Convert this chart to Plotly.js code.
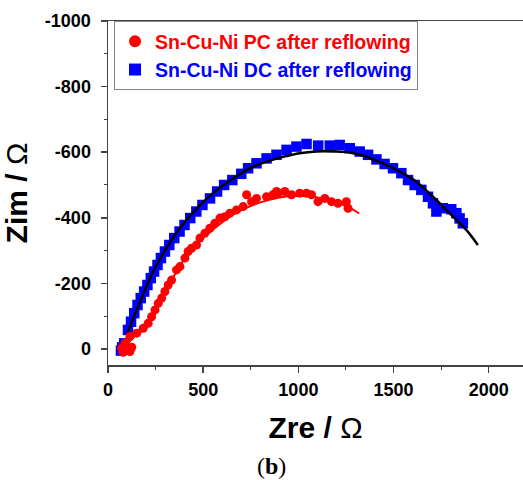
<!DOCTYPE html>
<html>
<head>
<meta charset="utf-8">
<script src="https://cdn.plot.ly/plotly-3.0.1.min.js"></script>
<style>
html,body{margin:0;padding:0;background:#fff;overflow:hidden;}
#chart{width:523px;height:480px;}
</style>
</head>
<body>
<div id="chart"></div>
<script>
// Sn-Cu-Ni PC after reflowing (red circles)
var pcZre = [72, 80, 89, 100, 115, 125, 115, 151, 185, 211, 229, 247, 264, 282, 299, 316, 334, 360, 378, 404, 421, 439, 465, 483, 509, 535, 561, 588, 614, 640, 675, 710, 728, 754, 780, 833, 885, 867, 894, 929, 964, 1007, 1043, 1069, 1103, 1139, 1174, 1208, 1252, 1261];
var pcZim = [-2, 10, -17, 5, 8, -5, -38, -48, -63, -78, -98, -119, -139, -155, -175, -195, -210, -241, -251, -277, -297, -307, -317, -338, -353, -368, -383, -399, -403, -414, -424, -434, -470, -449, -459, -464, -480, -470, -475, -480, -470, -475, -475, -470, -449, -459, -449, -444, -449, -429];
// PC fitted curve (red line)
var pcFitZre = [110, 150, 200, 240, 280, 330, 380, 430, 480, 550, 620, 700, 800, 900, 1000, 1100, 1200, 1270, 1320];
var pcFitZim = [-20, -45, -65, -100, -150, -205, -255, -300, -330, -363, -395, -423, -447, -462, -466, -462, -446, -430, -413];
// Sn-Cu-Ni DC after reflowing (blue squares)
var dcZre = [68, 75, 85, 105, 121, 138, 155, 172, 190, 207, 225, 242, 260, 278, 299, 322, 348, 376, 402, 432, 464, 496, 536, 573, 610, 653, 700, 736, 780, 833, 885, 938, 990, 1043, 1104, 1165, 1217, 1270, 1322, 1366, 1410, 1453, 1497, 1541, 1576, 1611, 1646, 1681, 1707, 1725, 1759, 1803, 1830, 1847, 1864];
var dcZim = [5, -5, -17, -58, -83, -109, -134, -155, -175, -195, -216, -236, -256, -277, -297, -317, -338, -358, -378, -399, -419, -439, -459, -480, -500, -515, -534, -551, -566, -581, -592, -607, -617, -625, -620, -620, -622, -612, -602, -592, -578, -564, -551, -536, -515, -500, -485, -464, -444, -419, -429, -426, -414, -398, -383];
// DC fitted curve (black line)
var dcFitZre = [100, 104, 172, 242, 312, 398, 485, 572, 659, 746, 833, 920, 1007, 1095, 1182, 1270, 1357, 1445, 1532, 1620, 1707, 1794, 1882, 1943];
var dcFitZim = [-30, -48, -149, -241, -312, -383, -439, -485, -520, -551, -571, -586, -597, -602, -602, -599, -586, -566, -541, -510, -464, -414, -363, -317];
// axis ticks
var xTickVals = [0, 500, 1000, 1500, 2000];
var xTickText = ['0', '500', '1000', '1500', '2000'];
var yTickVals = [0, -200, -400, -600, -800, -1000];
var yTickText = ['0', '-200', '-400', '-600', '-800', '-1000'];

var pcName = 'Sn-Cu-Ni PC after reflowing';
var dcName = 'Sn-Cu-Ni DC after reflowing';

var traces = [
  {x: dcZre, y: dcZim, mode: 'markers', type: 'scatter', name: '<span style="color:#0000ff">' + dcName + '</span>',
   marker: {symbol: 'square', size: 10.5, color: '#0000ff'}, legendrank: 2},
  {x: dcFitZre, y: dcFitZim, mode: 'lines', type: 'scatter', showlegend: false,
   line: {color: '#000000', width: 2.5, shape: 'spline'}},
  {x: pcZre, y: pcZim, mode: 'markers', type: 'scatter', name: '<span style="color:#ff0000">' + pcName + '</span>',
   marker: {symbol: 'circle', size: 9, color: '#ff0000'}, legendrank: 1},
  {x: pcFitZre, y: pcFitZim, mode: 'lines', type: 'scatter', showlegend: false,
   line: {color: '#ff0000', width: 2, shape: 'spline'}}
];

var tickFont = {family: 'Liberation Sans, Arial, sans-serif', size: 18, color: '#000', weight: 700};

var layout = {
  width: 523, height: 480,
  margin: {l: 108, r: 0, t: 21, b: 115},
  paper_bgcolor: '#fff', plot_bgcolor: '#fff',
  showlegend: true,
  legend: {x: 0.0145, y: 1.0, xanchor: 'left', yanchor: 'top',
    bordercolor: '#888', borderwidth: 1, bgcolor: '#fff',
    font: {family: 'Liberation Sans, Arial, sans-serif', size: 19.5, weight: 700},
    tracegroupgap: 0, itemsizing: 'constant'},
  xaxis: {
    range: [0, 2180], tickmode: 'array', tickvals: xTickVals, ticktext: xTickText,
    showgrid: false, zeroline: false,
    showline: true, linecolor: '#444', linewidth: 1.5, mirror: true,
    ticks: 'outside', ticklen: 6, tickwidth: 1.5, tickcolor: '#444',
    minor: {ticks: 'outside', ticklen: 3, tick0: 0, dtick: 250, tickcolor: '#444', tickwidth: 1},
    tickfont: tickFont, ticklabelstandoff: 2,
    title: {text: 'Zre / <span style="font-weight:normal">Ω</span>', font: {family: 'Liberation Sans, Arial, sans-serif', size: 30, weight: 700, color: '#000'}, standoff: 18}
  },
  yaxis: {
    range: [49, -1000], tickmode: 'array', tickvals: yTickVals, ticktext: yTickText,
    showgrid: false, zeroline: false,
    showline: true, linecolor: '#444', linewidth: 1.5, mirror: false,
    ticks: 'outside', ticklen: 6, tickwidth: 1.5, tickcolor: '#444',
    minor: {ticks: 'outside', ticklen: 3, tick0: 0, dtick: 100, tickcolor: '#444', tickwidth: 1},
    tickfont: tickFont, ticklabelstandoff: 6,
    title: {text: 'Zim / <span style="font-weight:normal">Ω</span>', font: {family: 'Liberation Sans, Arial, sans-serif', size: 30, weight: 700, color: '#000'}, standoff: 12}
  },
  annotations: [{
    text: '(<b>b</b>)', xref: 'paper', yref: 'paper', x: 0.395, y: -0.294,
    xanchor: 'center', yanchor: 'middle', showarrow: false,
    font: {family: 'Liberation Serif, Times New Roman, serif', size: 24, color: '#000'}
  }]
};

Plotly.newPlot('chart', traces, layout, {displayModeBar: false, staticPlot: true});
</script>
</body>
</html>
